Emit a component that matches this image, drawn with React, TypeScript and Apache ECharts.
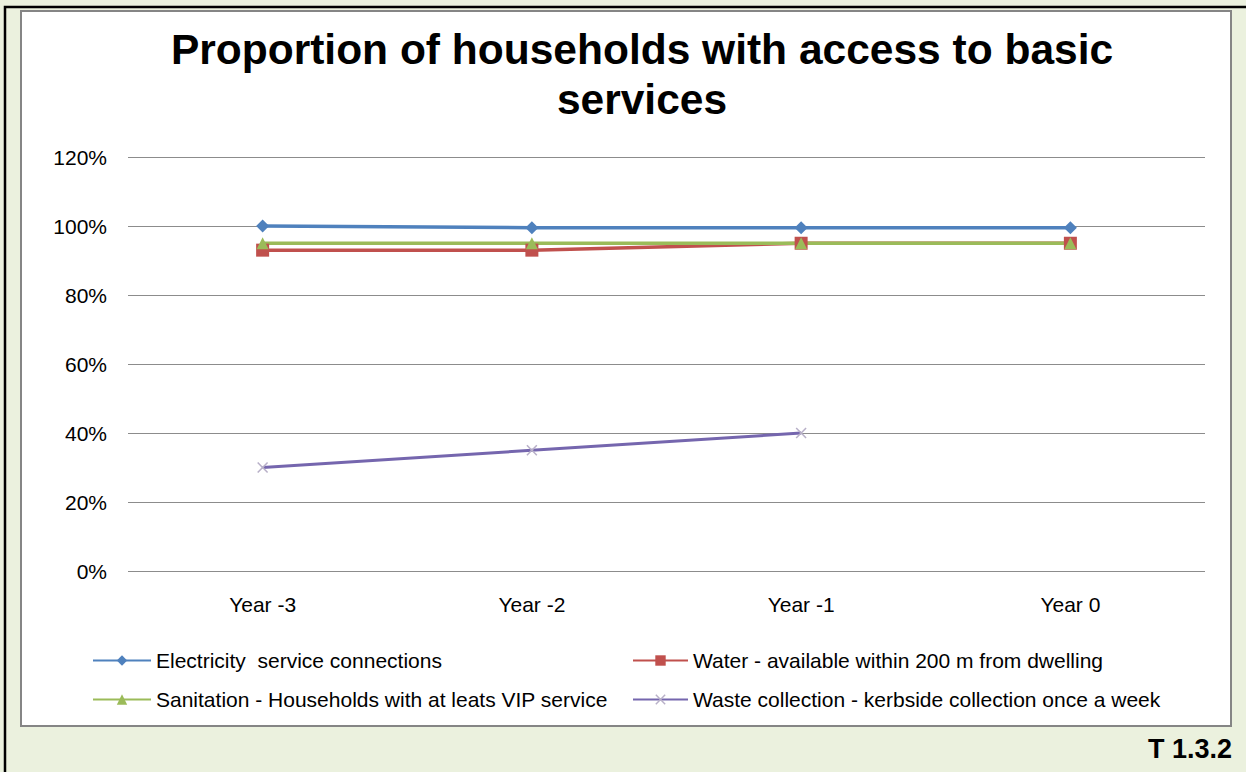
import React, { useEffect, useRef } from "react";
import * as echarts from "echarts";

const categories = ["Year -3", "Year -2", "Year -1", "Year 0"];
const electricity = [100, 99.5, 99.5, 99.5];
const water = [93, 93, 95, 95];
const sanitation = [95, 95, 95, 95];
const waste: (number | null)[] = [30, 35, 40, null];
const seriesNames = [
  "Electricity  service connections",
  "Water - available within 200 m from dwelling",
  "Sanitation - Households with at leats VIP service",
  "Waste collection - kerbside collection once a week",
];
const yTicks = { min: 0, max: 120, interval: 20 };

const FONT = '"Liberation Sans", Arial, sans-serif';
const X_SYMBOL =
  "path://M0,1L1,0L5,4L9,0L10,1L6,5L10,9L9,10L5,6L1,10L0,9L4,5Z";

export default function App() {
  const ref = useRef<HTMLDivElement>(null);
  useEffect(() => {
    if (!ref.current) return;
    const chart = echarts.init(ref.current, undefined, { renderer: "svg" });
    const legendText = { color: "#000", fontSize: 21, lineHeight: 20, fontFamily: FONT };
    chart.setOption({
      animation: false,
      backgroundColor: "#ebf1de",
      textStyle: { fontFamily: FONT },
      graphic: [
        {
          type: "rect",
          z: -10,
          shape: { x: 5, y: 7, width: 1260, height: 800 },
          style: { fill: "none", stroke: "#000", lineWidth: 2.5 },
          silent: true,
        },
        {
          type: "rect",
          z: -9,
          shape: { x: 21, y: 11, width: 1210, height: 715 },
          style: { fill: "#ffffff", stroke: "#858585", lineWidth: 2 },
          silent: true,
        },
        {
          type: "text",
          x: 642,
          y: 24,
          style: {
            text: "Proportion of households with access to basic\nservices",
            font: `bold 42.5px ${FONT}`,
            fill: "#000",
            align: "center",
            textAlign: "center",
            verticalAlign: "top",
            lineHeight: 50,
          },
        },
        {
          type: "text",
          x: 1232,
          y: 735,
          style: {
            text: "T 1.3.2",
            font: `bold 27px ${FONT}`,
            fill: "#000",
            align: "right",
            textAlign: "right",
            verticalAlign: "top",
          },
        },
      ],
      grid: { left: 128, right: 41, top: 157, bottom: 201, containLabel: false },
      xAxis: {
        type: "category",
        data: categories,
        boundaryGap: true,
        axisLine: { show: false },
        axisTick: { show: false },
        axisLabel: { color: "#000", fontSize: 21, margin: 23, fontFamily: FONT },
      },
      yAxis: {
        type: "value",
        min: yTicks.min,
        max: yTicks.max,
        interval: yTicks.interval,
        axisLine: { show: false },
        axisTick: { show: false },
        axisLabel: {
          color: "#000",
          fontSize: 21,
          margin: 21,
          formatter: "{value}%",
          fontFamily: FONT,
        },
        splitLine: { lineStyle: { color: "#8c8c8c", width: 1 } },
      },
      legend: [
        {
          orient: "vertical",
          left: 92,
          top: 650,
          padding: 0,
          itemWidth: 58,
          itemHeight: 13,
          itemGap: 18,
          textStyle: legendText,
          data: [seriesNames[0], seriesNames[2]],
        },
        {
          orient: "vertical",
          left: 632,
          top: 650,
          padding: 0,
          itemWidth: 55,
          itemHeight: 13,
          itemGap: 18,
          textStyle: legendText,
          data: [seriesNames[1], seriesNames[3]],
        },
      ],
      series: [
        {
          name: seriesNames[0],
          type: "line",
          data: electricity,
          color: "#4f81bd",
          symbol: "diamond",
          symbolSize: 13,
          lineStyle: { width: 3.5 },
        },
        {
          name: seriesNames[1],
          type: "line",
          data: water,
          color: "#c0504d",
          symbol: "rect",
          symbolSize: 13,
          lineStyle: { width: 3.5 },
        },
        {
          name: seriesNames[2],
          type: "line",
          data: sanitation,
          color: "#9bbb59",
          symbol: "triangle",
          symbolSize: 12,
          lineStyle: { width: 3.5 },
        },
        {
          name: seriesNames[3],
          type: "line",
          data: waste,
          color: "#7566ae",
          symbol: X_SYMBOL,
          symbolSize: 11,
          lineStyle: { width: 3, color: "#7566ae" },
          itemStyle: { color: "#b8b0c8" },
        },
      ],
    });
    return () => chart.dispose();
  }, []);
  return (
    <div
      ref={ref}
      style={{ position: "absolute", left: 0, top: 0, width: 1246, height: 772 }}
    />
  );
}
